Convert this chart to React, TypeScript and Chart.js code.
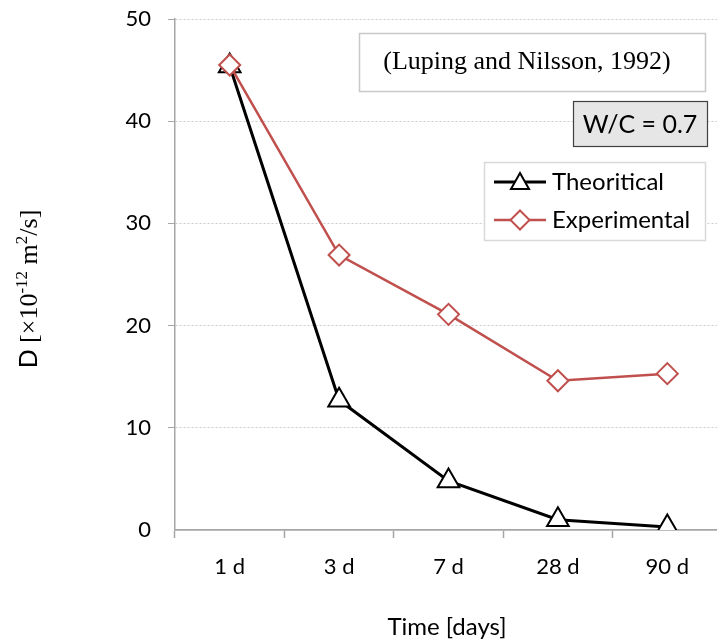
import React, { useEffect, useRef } from "react";
import { Chart, registerables } from "chart.js";

Chart.register(...registerables);

const categories = ["1 d", "3 d", "7 d", "28 d", "90 d"];
const theoretical = [45.4, 12.7, 4.8, 1.0, 0.3];
const experimental = [45.5, 26.9, 21.1, 14.6, 15.3];
const yTicks = [0, 10, 20, 30, 40, 50];
const sourceLabel = "(Luping and Nilsson, 1992)";
const ratioLabel = "W/C = 0.7";
const xTitle = "Time [days]";
const seriesNames = ["Theoritical", "Experimental"];

const SANS = "Lato, 'Open Sans', sans-serif";
const SERIF = "'Liberation Serif', 'DejaVu Serif', serif";
const RED = "#C0504D";

const overlayPlugin = {
  id: "overlay",
  afterDraw(chart: any) {
    const ctx = chart.ctx as CanvasRenderingContext2D;
    ctx.save();
    // Source box
    ctx.fillStyle = "#ffffff";
    ctx.fillRect(359, 33, 346, 58);
    ctx.strokeStyle = "#c8c8c8";
    ctx.lineWidth = 1.5;
    ctx.strokeRect(359.5, 33.5, 346, 58);
    ctx.fillStyle = "#000";
    ctx.font = `26px ${SERIF}`;
    ctx.textAlign = "center";
    ctx.textBaseline = "middle";
    ctx.fillText(sourceLabel, 527, 62);

    // W/C box
    ctx.fillStyle = "#e6e6e6";
    ctx.fillRect(573, 101, 134, 45);
    ctx.strokeStyle = "#404040";
    ctx.lineWidth = 1.2;
    ctx.strokeRect(573.5, 101.5, 134, 45);
    ctx.fillStyle = "#000";
    ctx.font = `25px ${SANS}`;
    ctx.fillText(ratioLabel, 640, 125);

    // Legend box
    ctx.fillStyle = "#ffffff";
    ctx.fillRect(484, 162, 221, 78);
    ctx.strokeStyle = "#d9d9d9";
    ctx.lineWidth = 1.5;
    ctx.strokeRect(484.5, 162.5, 221, 78);

    // legend Theoretical
    ctx.strokeStyle = "#000";
    ctx.lineWidth = 3;
    ctx.beginPath();
    ctx.moveTo(494, 182);
    ctx.lineTo(546, 182);
    ctx.stroke();
    ctx.fillStyle = "#fff";
    ctx.lineWidth = 2;
    ctx.beginPath();
    ctx.moveTo(520, 173);
    ctx.lineTo(529, 189);
    ctx.lineTo(511, 189);
    ctx.closePath();
    ctx.fill();
    ctx.stroke();

    // legend Experimental
    ctx.strokeStyle = RED;
    ctx.lineWidth = 2.5;
    ctx.beginPath();
    ctx.moveTo(494, 220);
    ctx.lineTo(546, 220);
    ctx.stroke();
    ctx.fillStyle = "#fff";
    ctx.lineWidth = 2;
    ctx.beginPath();
    ctx.moveTo(520, 210.5);
    ctx.lineTo(529.5, 220);
    ctx.lineTo(520, 229.5);
    ctx.lineTo(510.5, 220);
    ctx.closePath();
    ctx.fill();
    ctx.stroke();

    ctx.fillStyle = "#000";
    ctx.font = `24px ${SANS}`;
    ctx.textAlign = "left";
    ctx.fillText(seriesNames[0], 552, 182);
    ctx.fillText(seriesNames[1], 552, 220);

    // X title
    ctx.textAlign = "center";
    ctx.font = `24px ${SANS}`;
    ctx.fillText(xTitle, 447, 627);

    // Y title rotated with superscripts
    ctx.translate(37, 289);
    ctx.rotate(-Math.PI / 2);
    ctx.textBaseline = "alphabetic";
    ctx.textAlign = "left";
    const parts: [string, string, boolean][] = [
      ["D ", `25px ${SANS}`, false],
      ["[×10", `26px ${SERIF}`, false],
      ["-12", `17px ${SERIF}`, true],
      [" m", `26px ${SERIF}`, false],
      ["2", `17px ${SERIF}`, true],
      ["/s]", `26px ${SERIF}`, false],
    ];
    let total = 0;
    for (const [t, f] of parts) {
      ctx.font = f;
      total += ctx.measureText(t).width;
    }
    let x = -total / 2;
    for (const [t, f, sup] of parts) {
      ctx.font = f;
      ctx.fillText(t, x, sup ? -10 : 0);
      x += ctx.measureText(t).width;
    }
    ctx.restore();
  },
};

export default function App() {
  const ref = useRef<HTMLCanvasElement>(null);
  useEffect(() => {
    if (!ref.current) return;
    const chart = new Chart(ref.current, {
      type: "line",
      data: {
        labels: categories,
        datasets: [
          {
            label: seriesNames[0],
            data: theoretical,
            order: 1,
            borderColor: "#000",
            borderWidth: 3,
            pointStyle: "triangle",
            pointRadius: 12.5,
            pointBorderWidth: 2,
            pointBackgroundColor: "#fff",
            pointBorderColor: "#000",
            tension: 0,
          },
          {
            label: seriesNames[1],
            data: experimental,
            order: 0,
            borderColor: RED,
            borderWidth: 2.5,
            pointStyle: "rectRot",
            pointRadius: 10.5,
            pointBorderWidth: 2,
            pointBackgroundColor: "#fff",
            pointBorderColor: RED,
            tension: 0,
          },
        ],
      },
      options: {
        responsive: false,
        animation: false,
        layout: { autoPadding: false, padding: { top: 19, left: 0, right: 0, bottom: 0 } },
        plugins: { legend: { display: false }, tooltip: { enabled: false } },
        scales: {
          x: {
            type: "category",
            offset: true,
            grid: {
              offset: true,
              drawOnChartArea: false,
              tickLength: 8,
              tickColor: "#a6a6a6",
              tickWidth: 1.5,
            },
            border: { color: "#a6a6a6", width: 1.8 },
            ticks: { color: "#000", font: { family: SANS, size: 22 }, padding: 16 },
            afterFit(scale: any) {
              scale.height = 113;
              scale.paddingLeft = 0;
              scale.paddingRight = 0;
            },
          },
          y: {
            min: 0,
            max: 50,
            afterBuildTicks(scale: any) {
              scale.ticks = yTicks.map((v) => ({ value: v }));
            },
            grid: {
              color: "#cccccc",
              tickBorderDash: [],
              tickLength: 7,
              tickColor: "#a6a6a6",
              lineWidth: (c: any) => (c.tick && c.tick.value === 0 ? 0 : 1),
            },
            border: { color: "#a6a6a6", width: 1.5, dash: [2, 2] },
            ticks: { color: "#000", font: { family: SANS, size: 22 }, padding: 17 },
            afterFit(scale: any) {
              scale.width = 175;
              scale.paddingTop = 0;
              scale.paddingBottom = 0;
            },
          },
        },
      },
      plugins: [overlayPlugin],
    } as any);
    return () => chart.destroy();
  }, []);
  return (
    <div
      style={{
        position: "fixed",
        left: 0,
        top: 0,
        width: 717,
        height: 643,
        overflow: "hidden",
        background: "#fff",
      }}
    >
      <canvas ref={ref} width={722} height={643} style={{ display: "block" }} />
    </div>
  );
}
